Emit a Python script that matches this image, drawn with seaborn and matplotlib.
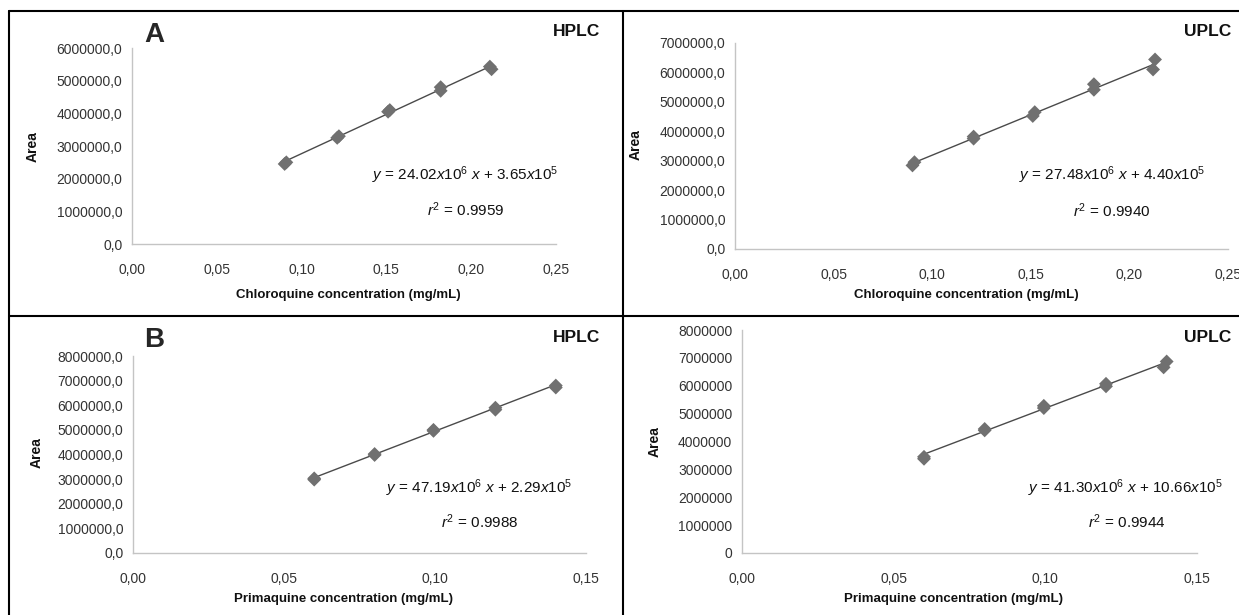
import numpy as np
import pandas as pd
import seaborn as sns
import matplotlib.pyplot as plt
from matplotlib.lines import Line2D
from matplotlib.ticker import FuncFormatter

sns.set_style("white")
plt.rcParams['font.family'] = ['Liberation Sans', 'DejaVu Sans']
plt.rcParams['mathtext.fontset'] = 'custom'
plt.rcParams['mathtext.rm'] = 'Liberation Sans'
plt.rcParams['mathtext.it'] = 'Liberation Sans:italic'

# datos
cq_hplc_x = [0.090, 0.091, 0.121, 0.122, 0.151, 0.152, 0.182, 0.182, 0.212, 0.211]
cq_hplc_y = [2.45e6, 2.50e6, 3.25e6, 3.30e6, 4.05e6, 4.10e6, 4.69e6, 4.80e6, 5.35e6, 5.43e6]
cq_uplc_x = [0.090, 0.091, 0.121, 0.121, 0.151, 0.152, 0.182, 0.182, 0.212, 0.213]
cq_uplc_y = [2.84e6, 2.95e6, 3.75e6, 3.82e6, 4.52e6, 4.65e6, 5.41e6, 5.60e6, 6.10e6, 6.44e6]
pq_hplc_x = [0.060, 0.060, 0.080, 0.080, 0.0995, 0.0995, 0.120, 0.120, 0.140, 0.140]
pq_hplc_y = [2.98e6, 3.03e6, 3.98e6, 4.02e6, 4.96e6, 5.00e6, 5.82e6, 5.90e6, 6.72e6, 6.80e6]
pq_uplc_x = [0.060, 0.060, 0.080, 0.080, 0.0995, 0.0995, 0.120, 0.120, 0.139, 0.140]
pq_uplc_y = [3.38e6, 3.45e6, 4.40e6, 4.45e6, 5.20e6, 5.28e6, 5.98e6, 6.07e6, 6.66e6, 6.87e6]

# pendiente e intercepto de cada recta
slopes = [24.02e6, 27.48e6, 47.19e6, 41.30e6]
intercepts = [3.65e5, 4.40e5, 2.29e5, 10.66e5]
equations = [r"$y$ = 24.02$x$10$^6$ $x$ + 3.65$x$10$^5$",
             r"$y$ = 27.48$x$10$^6$ $x$ + 4.40$x$10$^5$",
             r"$y$ = 47.19$x$10$^6$ $x$ + 2.29$x$10$^5$",
             r"$y$ = 41.30$x$10$^6$ $x$ + 10.66$x$10$^5$"]
r2_values = ["0.9959", "0.9940", "0.9988", "0.9944"]
methods = ["HPLC", "UPLC", "HPLC", "UPLC"]
xlabels = ["Chloroquine concentration (mg/mL)"] * 2 + ["Primaquine concentration (mg/mL)"] * 2
xmax = [0.25, 0.25, 0.15, 0.15]
ymax = [6e6, 7e6, 8e6, 8e6]
series = [(cq_hplc_x, cq_hplc_y), (cq_uplc_x, cq_uplc_y),
          (pq_hplc_x, pq_hplc_y), (pq_uplc_x, pq_uplc_y)]

W, H = 1239, 615
fig = plt.figure(figsize=(W / 100, H / 100), dpi=100)

def fx(px):
    return px / W

def fy(py):
    return 1 - py / H

# posiciones en pixeles: izquierda, derecha, abajo, arriba
boxes = [(132, 556, 244, 48), (735, 1228, 249, 43), (133, 586, 553, 356), (742, 1197, 553, 330)]
# posiciones de textos: ecuacion, r2, metodo (derecha), etiqueta x, etiqueta y
text_pos = [((465, 175), (466, 210), (600, 32), (348, 295), (33, 147)),
            ((1112, 175), (1112, 211), (1231, 32), (966, 295), (636, 145)),
            ((479, 488), (480, 522), (600, 338), (344, 599), (37, 453)),
            ((1125, 488), (1127, 522), (1231, 337), (954, 599), (655, 442))]

comma1 = FuncFormatter(lambda v, p: f"{v:.1f}".replace(".", ","))
comma0 = FuncFormatter(lambda v, p: f"{v:.0f}")
commax = FuncFormatter(lambda v, p: f"{v:.2f}".replace(".", ","))

for i in range(4):
    l, r, b, t = boxes[i]
    ax = fig.add_axes([fx(l), fy(b), (r - l) / W, (b - t) / H])
    ax.patch.set_alpha(0)
    x, y = series[i]
    df = pd.DataFrame({"x": x, "y": y})
    xl = np.array([min(x), max(x)])
    fit = pd.DataFrame({"x": xl, "y": slopes[i] * xl + intercepts[i]})
    sns.lineplot(data=fit, x="x", y="y", ax=ax, color="#4a4a4a", linewidth=1.0, zorder=2)
    sns.scatterplot(data=df, x="x", y="y", ax=ax, marker="D", s=50, color="#707070",
                    edgecolor="none", zorder=3)
    ax.set_xlim(0, xmax[i])
    ax.set_ylim(0, ymax[i])
    ax.set_xticks(np.arange(0, xmax[i] + 0.001, 0.05))
    ax.set_yticks(np.arange(0, ymax[i] + 1, 1e6))
    ax.xaxis.set_major_formatter(commax)
    ax.yaxis.set_major_formatter(comma0 if i == 3 else comma1)
    ax.set_xlabel("")
    ax.set_ylabel("")
    for s in ["top", "right"]:
        ax.spines[s].set_visible(False)
    for s in ["left", "bottom"]:
        ax.spines[s].set_color("#c4c4c4")
        ax.spines[s].set_linewidth(1.0)
    ax.tick_params(axis="both", colors="#c4c4c4", labelcolor="#333333", labelsize=10,
                   length=4, width=1.0, direction="out")
    ax.tick_params(axis="x", pad=10)
    ax.tick_params(axis="y", pad=3)

    eq, r2, meth, xlab, ylab = text_pos[i]
    fig.text(fx(eq[0]), fy(eq[1]), equations[i], ha="center", va="center", fontsize=11, color="#111111")
    fig.text(fx(r2[0]), fy(r2[1]), r"$r^2$ = " + r2_values[i], ha="center", va="center",
             fontsize=11, color="#111111")
    fig.text(fx(meth[0]), fy(meth[1]), methods[i], ha="right", va="center", fontsize=12.5,
             fontweight="bold", color="#111111")
    fig.text(fx(xlab[0]), fy(xlab[1]), xlabels[i], ha="center", va="center", fontsize=9.5,
             fontweight="bold", color="#111111")
    fig.text(fx(ylab[0]), fy(ylab[1]), "Area", ha="center", va="center", fontsize=10,
             fontweight="bold", rotation=90, color="#111111")

fig.text(fx(154), fy(35), "A", ha="center", va="center", fontsize=20, fontweight="bold")
fig.text(fx(154), fy(340), "B", ha="center", va="center", fontsize=20, fontweight="bold")

# marcos de los paneles
frame = dict(color="black", linewidth=1.5, transform=fig.transFigure)
fig.add_artist(Line2D([fx(9), fx(9)], [fy(11), 0], **frame))
fig.add_artist(Line2D([fx(9), 1], [fy(11), fy(11)], **frame))
fig.add_artist(Line2D([fx(623), fx(623)], [fy(11), 0], **frame))
fig.add_artist(Line2D([fx(9), 1], [fy(316), fy(316)], **frame))

fig.savefig("out.png", dpi=100)
